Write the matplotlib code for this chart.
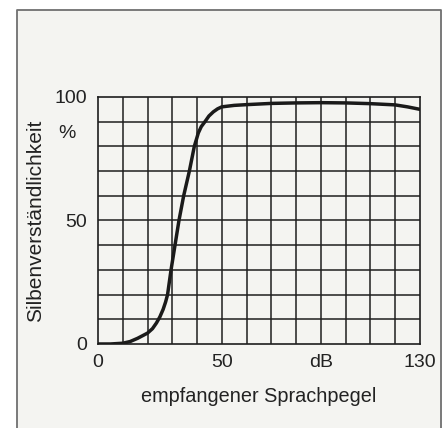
import matplotlib.pyplot as plt
from matplotlib.patches import Rectangle
from matplotlib.lines import Line2D

plt.rcParams['font.family'] = ['Liberation Sans', 'DejaVu Sans']

# curve
level_db = [0, 5, 10, 13, 16, 20, 22, 23.6, 25, 26.3, 27.3, 28.1, 28.8, 29.5,
            31.1, 32.7, 34.6, 36.9, 38.9, 39.8, 40.5, 41.7, 43.2, 44.8, 46.6,
            48.3, 50, 55, 60, 70, 80, 90, 100, 110, 120, 125, 130]
intelligibility = [0, 0, 0.3, 1.0, 2.3, 4.4, 6.2, 8.5, 11, 14, 17, 20, 25,
                   30, 40, 50, 60, 70, 80, 83, 85.4, 88, 90, 92.3, 94, 95.2,
                   96, 96.6, 96.9, 97.4, 97.6, 97.7, 97.6, 97.3, 96.8, 96, 95]

x_ticks = [0, 50, 90, 130]
x_ticklabels = ['0', '50', 'dB', '130']
y_ticks = [0, 50, 100]
y_ticklabels = ['0', '50', '100']

fig = plt.figure(figsize=(4.42, 4.28), dpi=100, facecolor='white')

# paper background and frame
fig.patches.append(Rectangle((0.0385, 0), 1 - 0.0385, 0.9766,
                             transform=fig.transFigure, facecolor='#f4f4f1',
                             edgecolor='none', zorder=-10))
fig.lines.append(Line2D([0.0385, 0.0385, 0.998, 0.998], [0, 0.9766, 0.9766, 0],
                        transform=fig.transFigure, color='#707070', lw=1.3,
                        zorder=-5))

ax = fig.add_axes([0.2217, 0.1963, 0.7283, 0.5771])
ax.set_facecolor('none')
ax.set_xlim(0, 130)
ax.set_ylim(0, 100)

for v in range(10, 130, 10):
    ax.axvline(v, color='#1e1e1e', lw=1.1, zorder=1)
for v in range(10, 100, 10):
    ax.axhline(v, color='#1e1e1e', lw=1.1, zorder=1)
for s in ax.spines.values():
    s.set_color('#1e1e1e')
    s.set_linewidth(1.2)

ax.plot(level_db, intelligibility, color='#1a1a1a', lw=2.5, zorder=3,
        solid_capstyle='round', solid_joinstyle='round')

ax.set_xticks(x_ticks)
ax.set_xticklabels(x_ticklabels)
ax.set_yticks(y_ticks)
ax.set_yticklabels(y_ticklabels)
ax.tick_params(length=0, labelsize=14, colors='#222222')
ax.tick_params(axis='y', pad=8)
ax.tick_params(axis='x', pad=7)

ax.text(-0.096, 0.854, '%', transform=ax.transAxes, ha='center', va='center',
        fontsize=14, color='#222222')
ax.set_ylabel('Silbenverständlichkeit', fontsize=15, color='#222222')
ax.yaxis.set_label_coords(-0.165, 0.5)
ax.set_xlabel('empfangener Sprachpegel', fontsize=14.3, color='#222222',
              labelpad=12)

fig.savefig('out.png', dpi=100, facecolor=fig.get_facecolor())
